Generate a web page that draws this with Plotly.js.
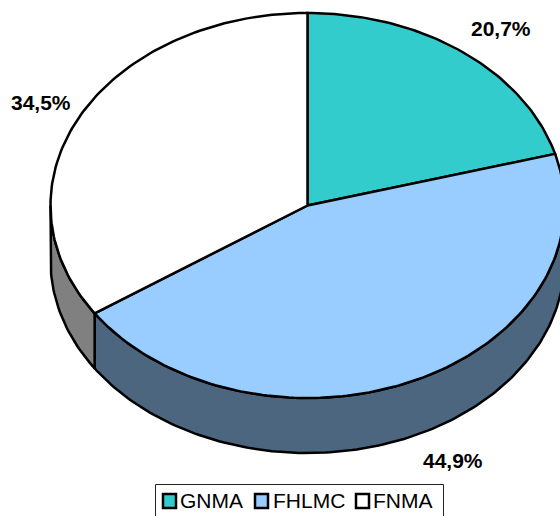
<!DOCTYPE html>
<html>
<head>
<meta charset="utf-8">
<script src="https://cdn.plot.ly/plotly-3.0.1.min.js"></script>
<style>html,body{margin:0;padding:0;background:#fff;overflow:hidden}</style>
</head>
<body>
<div id="chart" style="width:560px;height:516px"></div>
<script>
var categories = ['GNMA', 'FHLMC', 'FNMA'];
var shares = [20.7, 44.9, 34.5];
var topColors = ['#33CCCC', '#99CCFF', '#FFFFFF'];
var wallColors = ['#1A6666', '#4D6680', '#808080'];

var W = 560, H = 516, CX = 307.5, CY = 205.5, RX = 257, RY = 192.5, DEPTH = 55 / 192.5;
var total = shares.reduce(function (a, b) { return a + b; }, 0);
function px(x) { return x / W; }
function py(y) { return 1 - y / H; }

function arc(a0, a1, drop) {
  var xs = [], ys = [], n = Math.max(2, Math.ceil(Math.abs(a1 - a0) / 1));
  for (var i = 0; i <= n; i++) {
    var t = (a0 + (a1 - a0) * i / n) * Math.PI / 180;
    xs.push(Math.sin(t));
    ys.push(Math.cos(t) - drop);
  }
  return { x: xs, y: ys };
}

var walls = [], tops = [], start = 0;
var LINE = { color: '#000', width: 2.5 };
categories.forEach(function (name, i) {
  var end = start + shares[i] / total * 360;
  var w0 = Math.max(start, 90), w1 = Math.min(end, 270);
  if (w1 > w0) {
    var up = arc(w0, w1, 0), down = arc(w1, w0, DEPTH);
    walls.push({
      type: 'scatter', mode: 'lines', fill: 'toself', fillcolor: wallColors[i],
      line: LINE, hoverinfo: 'skip', showlegend: false, name: name + ' side',
      x: up.x.concat(down.x, [up.x[0]]), y: up.y.concat(down.y, [up.y[0]])
    });
  }
  var a = arc(start, end, 0);
  tops.push({
    type: 'scatter', mode: 'lines', fill: 'toself', fillcolor: topColors[i],
    line: LINE, name: name, showlegend: false,
    text: shares[i].toFixed(1).replace('.', ',') + '%', hoverinfo: 'name+text',
    x: [0].concat(a.x, [0]), y: [0].concat(a.y, [0])
  });
  start = end;
});

var FONT = 'Liberation Sans, Arial, sans-serif';
var labelPos = [[501, 29], [453, 460], [41, 102]];
var annotations = categories.map(function (c, i) {
  return {
    xref: 'paper', yref: 'paper', x: px(labelPos[i][0]), y: py(labelPos[i][1]),
    xanchor: 'center', yanchor: 'middle', showarrow: false,
    text: '<b>' + shares[i].toFixed(1).replace('.', ',') + '%</b>',
    font: { family: FONT, size: 21, color: '#000' }
  };
});

var swatchX = [162, 254, 355], legendTextX = [179, 272, 372];
var shapes = [{
  type: 'rect', xref: 'paper', yref: 'paper', layer: 'above',
  x0: px(155.5), x1: px(443.5), y0: py(525), y1: py(484.5),
  line: { color: '#222', width: 1 }, fillcolor: '#fff'
}];
categories.forEach(function (c, i) {
  shapes.push({
    type: 'rect', xref: 'paper', yref: 'paper', layer: 'above',
    x0: px(swatchX[i] + 1), x1: px(swatchX[i] + 14), y0: py(508), y1: py(494),
    line: { color: '#000', width: 2.5 }, fillcolor: topColors[i]
  });
  annotations.push({
    xref: 'paper', yref: 'paper', x: px(legendTextX[i]), y: py(500.5),
    xanchor: 'left', yanchor: 'middle', showarrow: false, text: c,
    borderpad: 0, font: { family: FONT, size: 21, color: '#000' }
  });
});

Plotly.newPlot('chart', walls.concat(tops), {
  width: W, height: H, autosize: false,
  margin: { l: 0, r: 0, t: 0, b: 0, pad: 0 },
  paper_bgcolor: '#fff', plot_bgcolor: '#fff', showlegend: false,
  xaxis: { range: [-CX / RX, (W - CX) / RX], visible: false, fixedrange: true },
  yaxis: { range: [-(H - CY) / RY, CY / RY], visible: false, fixedrange: true },
  shapes: shapes, annotations: annotations
}, { displayModeBar: false, staticPlot: false });
</script>
</body>
</html>
